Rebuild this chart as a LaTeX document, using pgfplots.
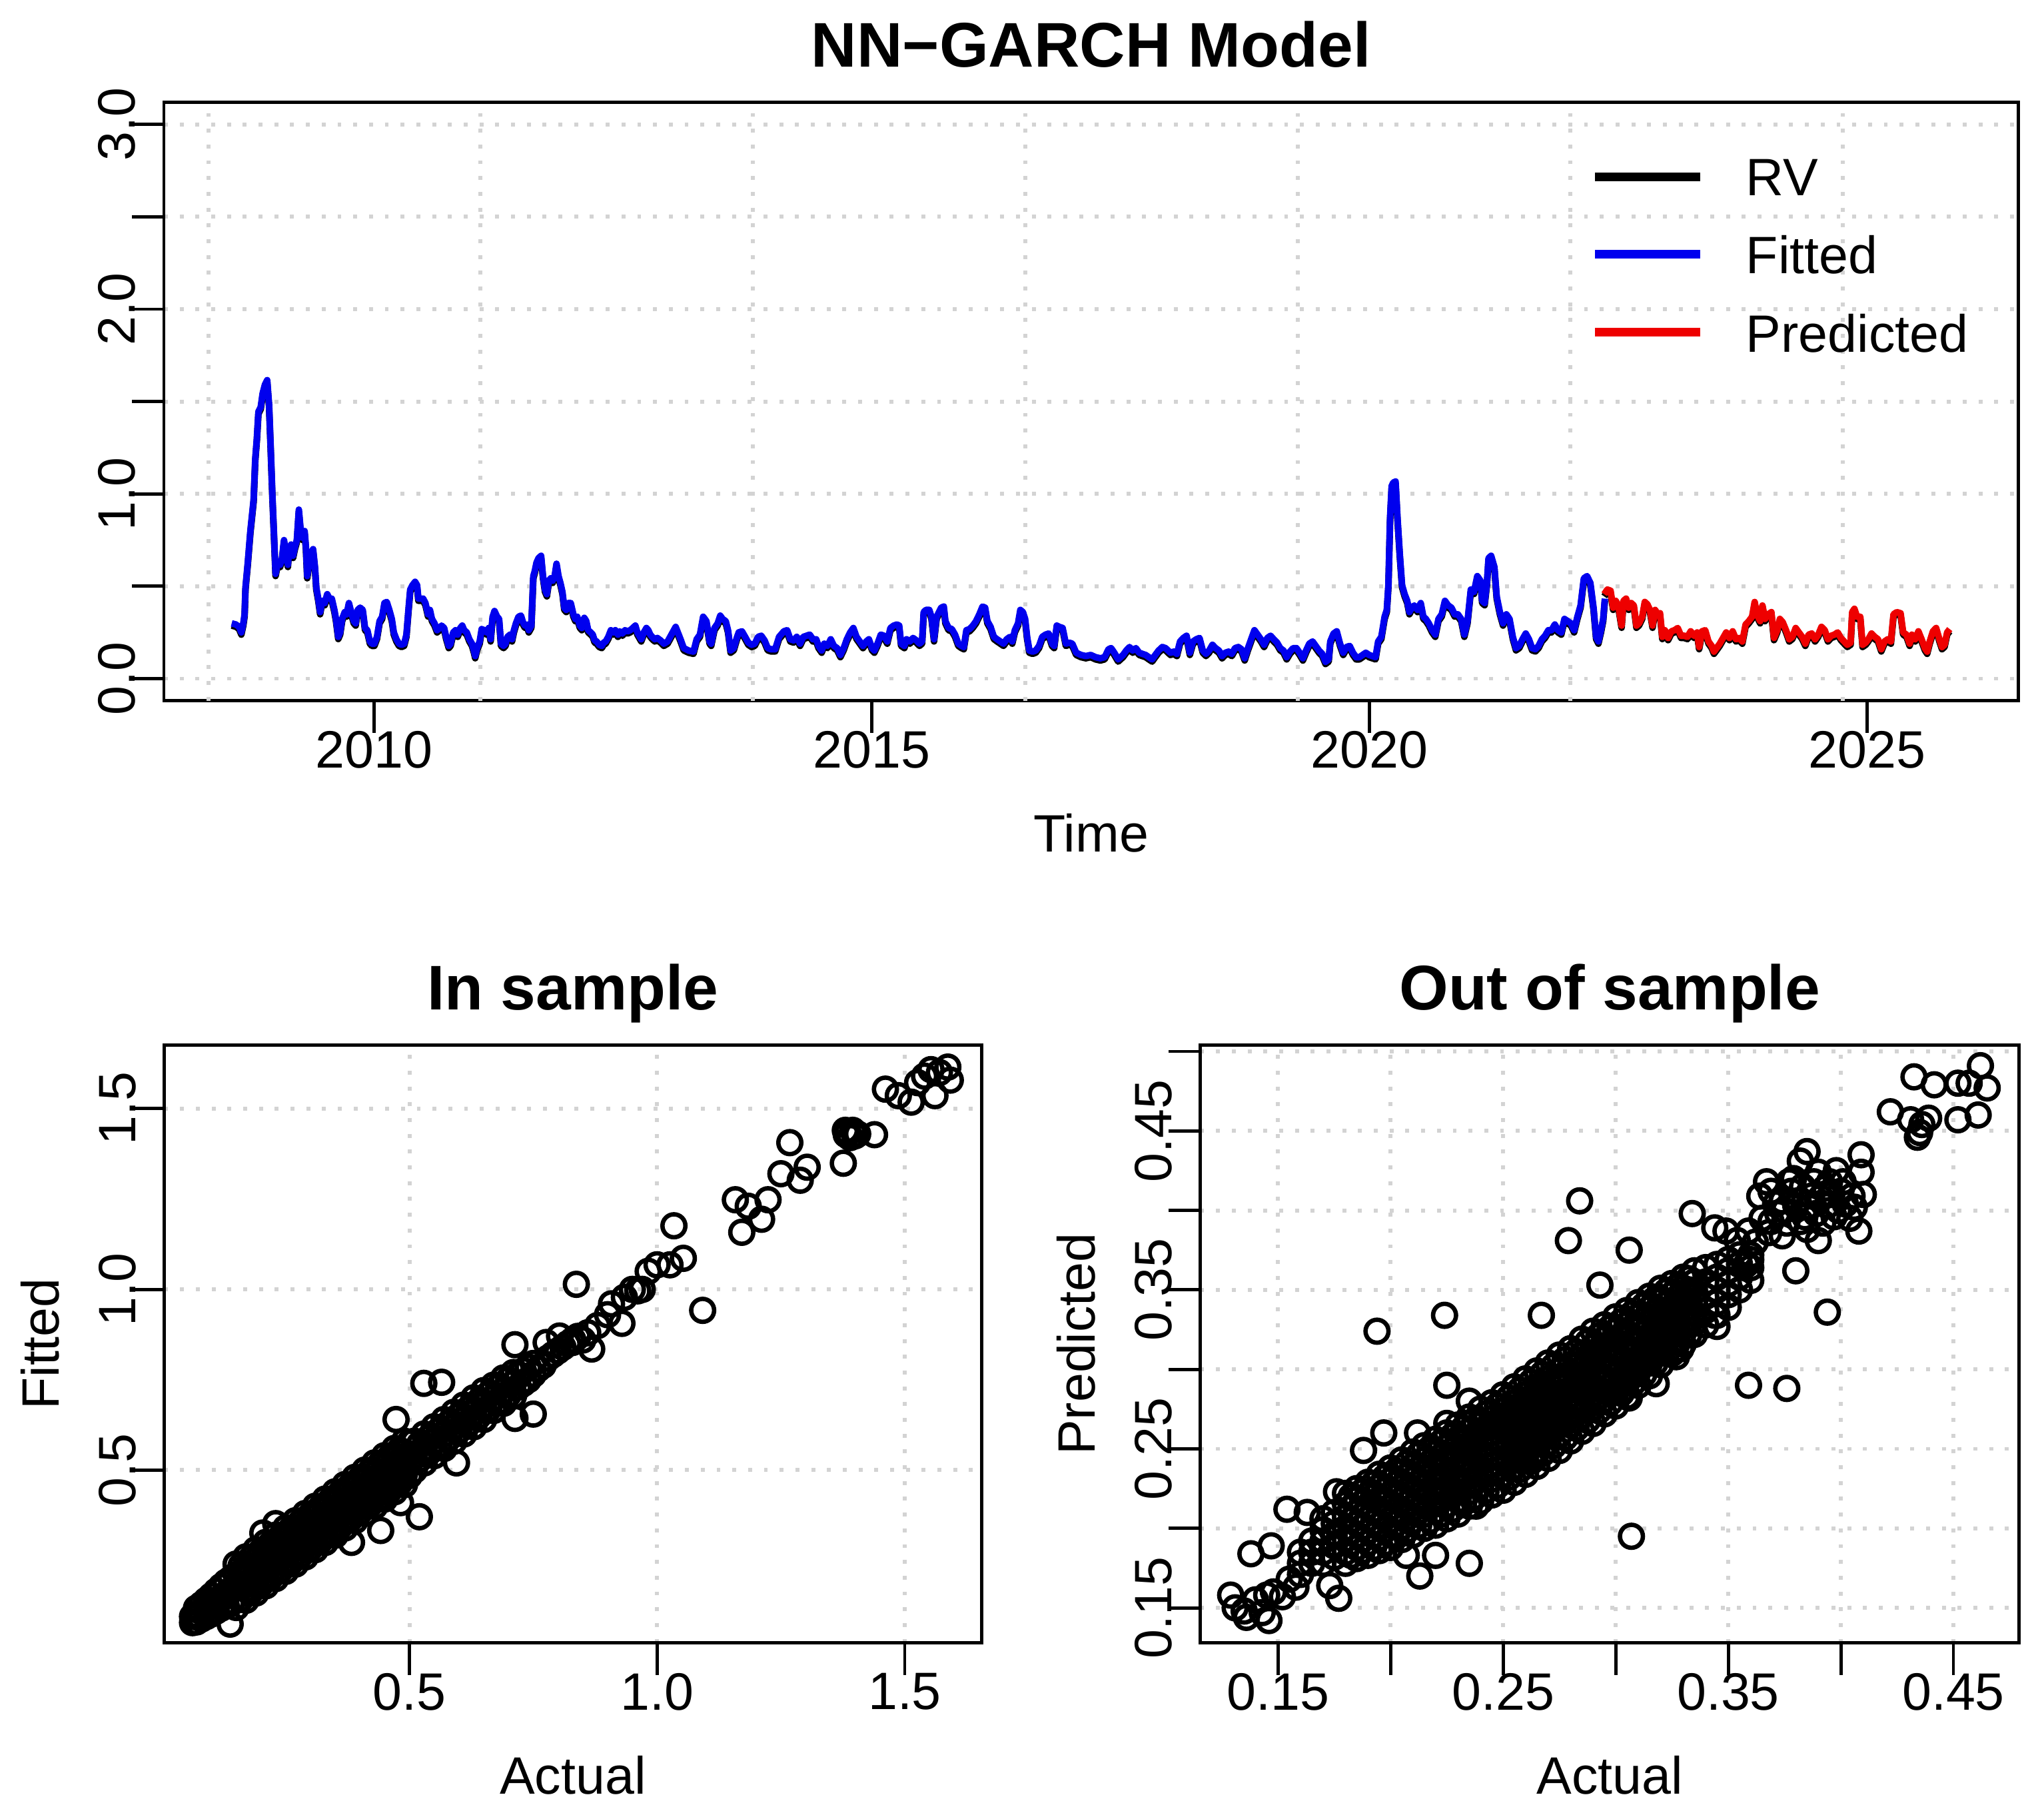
\documentclass[border=0pt]{standalone}
\usepackage{fontspec}
\setmainfont{Liberation Sans}
\usepackage{pgfplots}
\usepackage{pgfplotstable}
\pgfplotsset{compat=1.18}
\definecolor{gridgray}{RGB}{211,211,211}
\definecolor{rblue}{RGB}{0,0,238}
\definecolor{rred}{RGB}{238,0,0}

\pgfplotstableread{
t v
2008.569 0.299
2008.611 0.293
2008.644 0.280
2008.666 0.250
2008.686 0.299
2008.699 0.348
2008.708 0.494
2008.731 0.628
2008.757 0.799
2008.790 0.970
2008.806 1.189
2008.822 1.299
2008.838 1.445
2008.861 1.470
2008.880 1.543
2008.903 1.591
2008.926 1.616
2008.945 1.482
2008.962 1.238
2008.978 0.994
2008.991 0.823
2009.010 0.567
2009.033 0.628
2009.056 0.616
2009.075 0.652
2009.095 0.750
2009.114 0.677
2009.134 0.616
2009.147 0.701
2009.166 0.726
2009.186 0.665
2009.205 0.713
2009.224 0.750
2009.244 0.915
2009.263 0.799
2009.283 0.762
2009.302 0.799
2009.315 0.713
2009.328 0.555
2009.348 0.628
2009.367 0.677
2009.387 0.701
2009.406 0.604
2009.419 0.494
2009.439 0.433
2009.458 0.360
2009.478 0.421
2009.504 0.409
2009.529 0.457
2009.552 0.433
2009.575 0.433
2009.601 0.372
2009.617 0.323
2009.640 0.226
2009.659 0.250
2009.679 0.323
2009.705 0.360
2009.724 0.348
2009.747 0.409
2009.770 0.360
2009.796 0.311
2009.815 0.299
2009.835 0.372
2009.860 0.384
2009.886 0.372
2009.909 0.274
2009.932 0.262
2009.958 0.201
2009.977 0.189
2010.003 0.189
2010.029 0.226
2010.055 0.311
2010.081 0.335
2010.104 0.409
2010.127 0.415
2010.153 0.372
2010.178 0.323
2010.198 0.250
2010.224 0.213
2010.250 0.189
2010.276 0.183
2010.302 0.189
2010.325 0.238
2010.347 0.384
2010.363 0.482
2010.386 0.506
2010.412 0.524
2010.432 0.506
2010.445 0.433
2010.471 0.433
2010.493 0.433
2010.516 0.409
2010.542 0.348
2010.561 0.372
2010.581 0.323
2010.607 0.299
2010.633 0.262
2010.659 0.274
2010.678 0.287
2010.704 0.274
2010.724 0.226
2010.750 0.177
2010.769 0.189
2010.795 0.250
2010.818 0.262
2010.840 0.238
2010.866 0.274
2010.886 0.287
2010.905 0.262
2010.931 0.250
2010.957 0.213
2010.983 0.189
2011.003 0.152
2011.016 0.122
2011.035 0.165
2011.061 0.201
2011.081 0.268
2011.107 0.262
2011.133 0.250
2011.152 0.274
2011.171 0.213
2011.191 0.335
2011.210 0.366
2011.236 0.335
2011.256 0.323
2011.275 0.189
2011.301 0.177
2011.321 0.189
2011.340 0.226
2011.366 0.238
2011.386 0.213
2011.405 0.262
2011.425 0.299
2011.451 0.335
2011.476 0.341
2011.496 0.305
2011.515 0.287
2011.535 0.293
2011.554 0.262
2011.580 0.287
2011.600 0.555
2011.613 0.579
2011.632 0.628
2011.652 0.652
2011.678 0.665
2011.697 0.555
2011.717 0.482
2011.736 0.457
2011.756 0.530
2011.775 0.543
2011.794 0.530
2011.814 0.555
2011.833 0.622
2011.853 0.555
2011.872 0.518
2011.892 0.470
2011.911 0.384
2011.931 0.372
2011.950 0.409
2011.976 0.409
2012.002 0.348
2012.022 0.323
2012.041 0.335
2012.067 0.287
2012.087 0.274
2012.112 0.329
2012.132 0.311
2012.151 0.262
2012.177 0.250
2012.197 0.238
2012.216 0.207
2012.236 0.201
2012.262 0.183
2012.288 0.177
2012.307 0.195
2012.327 0.201
2012.353 0.226
2012.379 0.262
2012.405 0.250
2012.424 0.262
2012.450 0.238
2012.469 0.256
2012.495 0.244
2012.521 0.262
2012.547 0.256
2012.573 0.262
2012.599 0.274
2012.625 0.287
2012.645 0.250
2012.664 0.232
2012.684 0.213
2012.710 0.250
2012.736 0.274
2012.755 0.262
2012.775 0.238
2012.794 0.226
2012.820 0.213
2012.846 0.220
2012.878 0.207
2012.911 0.189
2012.949 0.201
2013.030 0.280
2013.079 0.213
2013.111 0.165
2013.160 0.152
2013.209 0.146
2013.241 0.213
2013.274 0.238
2013.306 0.335
2013.339 0.311
2013.371 0.201
2013.387 0.189
2013.420 0.274
2013.452 0.299
2013.478 0.341
2013.501 0.323
2013.533 0.311
2013.556 0.262
2013.582 0.152
2013.614 0.165
2013.640 0.213
2013.663 0.250
2013.696 0.256
2013.728 0.226
2013.760 0.195
2013.793 0.183
2013.825 0.189
2013.858 0.226
2013.890 0.232
2013.923 0.207
2013.955 0.165
2013.988 0.159
2014.030 0.159
2014.069 0.226
2014.117 0.256
2014.150 0.262
2014.182 0.213
2014.215 0.207
2014.247 0.226
2014.280 0.189
2014.312 0.226
2014.345 0.232
2014.377 0.238
2014.409 0.213
2014.442 0.213
2014.465 0.177
2014.497 0.152
2014.523 0.189
2014.555 0.177
2014.588 0.213
2014.620 0.177
2014.653 0.165
2014.685 0.128
2014.718 0.165
2014.750 0.213
2014.783 0.250
2014.815 0.274
2014.847 0.226
2014.880 0.201
2014.912 0.177
2014.945 0.201
2014.971 0.213
2015.003 0.165
2015.026 0.152
2015.058 0.189
2015.091 0.238
2015.123 0.232
2015.156 0.201
2015.188 0.274
2015.221 0.287
2015.253 0.293
2015.276 0.287
2015.295 0.189
2015.328 0.177
2015.350 0.213
2015.383 0.201
2015.415 0.220
2015.448 0.207
2015.480 0.189
2015.506 0.201
2015.522 0.360
2015.545 0.372
2015.578 0.372
2015.600 0.335
2015.626 0.213
2015.652 0.335
2015.675 0.360
2015.698 0.384
2015.724 0.390
2015.740 0.311
2015.772 0.274
2015.805 0.268
2015.837 0.238
2015.870 0.189
2015.902 0.177
2015.925 0.171
2015.951 0.262
2015.983 0.268
2016.016 0.287
2016.048 0.311
2016.081 0.348
2016.113 0.390
2016.139 0.384
2016.162 0.311
2016.194 0.280
2016.227 0.226
2016.259 0.213
2016.292 0.201
2016.324 0.189
2016.356 0.213
2016.389 0.226
2016.412 0.201
2016.438 0.262
2016.470 0.299
2016.493 0.372
2016.519 0.360
2016.541 0.323
2016.561 0.226
2016.584 0.152
2016.616 0.146
2016.648 0.152
2016.681 0.177
2016.713 0.226
2016.746 0.238
2016.778 0.244
2016.811 0.189
2016.833 0.177
2016.859 0.287
2016.885 0.280
2016.918 0.274
2016.950 0.189
2016.983 0.195
2017.015 0.189
2017.054 0.140
2017.103 0.128
2017.151 0.122
2017.200 0.128
2017.249 0.116
2017.297 0.110
2017.340 0.116
2017.379 0.159
2017.405 0.165
2017.437 0.140
2017.476 0.104
2017.525 0.128
2017.557 0.152
2017.590 0.171
2017.622 0.152
2017.654 0.165
2017.687 0.140
2017.719 0.134
2017.752 0.128
2017.784 0.116
2017.817 0.104
2017.849 0.128
2017.882 0.152
2017.920 0.171
2017.952 0.165
2018.001 0.140
2018.034 0.146
2018.066 0.134
2018.098 0.201
2018.131 0.220
2018.163 0.232
2018.196 0.140
2018.228 0.201
2018.261 0.213
2018.293 0.220
2018.326 0.152
2018.358 0.134
2018.390 0.152
2018.423 0.183
2018.455 0.165
2018.488 0.152
2018.520 0.122
2018.553 0.140
2018.585 0.146
2018.618 0.134
2018.650 0.165
2018.683 0.171
2018.715 0.159
2018.747 0.110
2018.780 0.165
2018.812 0.213
2018.845 0.262
2018.877 0.238
2018.910 0.213
2018.942 0.183
2018.975 0.220
2019.007 0.232
2019.039 0.213
2019.072 0.195
2019.104 0.165
2019.137 0.152
2019.169 0.116
2019.202 0.146
2019.234 0.165
2019.267 0.165
2019.299 0.140
2019.332 0.110
2019.364 0.152
2019.396 0.189
2019.429 0.201
2019.461 0.177
2019.494 0.152
2019.526 0.134
2019.559 0.091
2019.591 0.104
2019.607 0.201
2019.640 0.244
2019.672 0.256
2019.705 0.189
2019.737 0.140
2019.770 0.171
2019.802 0.177
2019.835 0.140
2019.867 0.116
2019.899 0.116
2019.932 0.128
2019.964 0.140
2019.997 0.128
2020.029 0.122
2020.062 0.116
2020.088 0.201
2020.120 0.226
2020.153 0.335
2020.175 0.372
2020.191 0.506
2020.208 0.872
2020.224 1.043
2020.240 1.061
2020.263 1.067
2020.282 0.872
2020.305 0.677
2020.328 0.506
2020.354 0.457
2020.380 0.421
2020.402 0.360
2020.425 0.384
2020.451 0.396
2020.484 0.372
2020.516 0.409
2020.542 0.335
2020.568 0.323
2020.597 0.299
2020.630 0.262
2020.662 0.238
2020.694 0.323
2020.727 0.348
2020.759 0.421
2020.792 0.396
2020.824 0.384
2020.857 0.348
2020.889 0.348
2020.922 0.323
2020.954 0.238
2020.986 0.311
2021.019 0.482
2021.051 0.470
2021.084 0.555
2021.116 0.530
2021.133 0.421
2021.158 0.409
2021.181 0.518
2021.197 0.652
2021.223 0.665
2021.256 0.604
2021.279 0.445
2021.311 0.360
2021.343 0.299
2021.376 0.348
2021.408 0.323
2021.441 0.226
2021.473 0.165
2021.506 0.177
2021.538 0.213
2021.571 0.244
2021.603 0.213
2021.635 0.165
2021.668 0.159
2021.700 0.177
2021.733 0.213
2021.765 0.232
2021.798 0.262
2021.830 0.262
2021.863 0.293
2021.895 0.262
2021.928 0.250
2021.960 0.323
2021.992 0.311
2022.025 0.299
2022.057 0.262
2022.090 0.335
2022.122 0.396
2022.155 0.543
2022.187 0.555
2022.220 0.518
2022.252 0.384
2022.278 0.226
2022.301 0.201
2022.327 0.262
2022.349 0.323
2022.366 0.433
}\fittedtab

\pgfplotstableread{
t v
2022.359 0.457
2022.391 0.482
2022.423 0.476
2022.449 0.384
2022.475 0.421
2022.501 0.396
2022.534 0.287
2022.553 0.421
2022.579 0.433
2022.605 0.384
2022.631 0.409
2022.657 0.396
2022.683 0.287
2022.709 0.299
2022.741 0.335
2022.767 0.415
2022.793 0.402
2022.819 0.372
2022.845 0.287
2022.871 0.372
2022.897 0.348
2022.920 0.354
2022.943 0.226
2022.969 0.262
2023.001 0.220
2023.034 0.256
2023.066 0.262
2023.098 0.274
2023.131 0.232
2023.163 0.232
2023.196 0.226
2023.228 0.256
2023.261 0.232
2023.293 0.250
2023.313 0.171
2023.342 0.256
2023.374 0.262
2023.407 0.201
2023.439 0.177
2023.462 0.146
2023.488 0.165
2023.520 0.189
2023.553 0.220
2023.585 0.250
2023.618 0.220
2023.650 0.256
2023.683 0.213
2023.715 0.220
2023.747 0.201
2023.780 0.293
2023.812 0.311
2023.845 0.335
2023.871 0.415
2023.893 0.348
2023.926 0.311
2023.949 0.396
2023.975 0.323
2024.007 0.348
2024.039 0.360
2024.065 0.220
2024.098 0.262
2024.124 0.323
2024.153 0.305
2024.186 0.262
2024.218 0.213
2024.250 0.226
2024.283 0.274
2024.315 0.250
2024.348 0.226
2024.380 0.189
2024.413 0.238
2024.445 0.244
2024.478 0.213
2024.510 0.238
2024.542 0.280
2024.575 0.262
2024.607 0.213
2024.640 0.232
2024.672 0.238
2024.705 0.250
2024.737 0.220
2024.770 0.201
2024.802 0.183
2024.835 0.195
2024.851 0.360
2024.873 0.378
2024.899 0.335
2024.932 0.335
2024.955 0.183
2024.987 0.195
2025.013 0.213
2025.045 0.244
2025.078 0.226
2025.110 0.213
2025.143 0.159
2025.175 0.201
2025.208 0.213
2025.240 0.201
2025.266 0.348
2025.299 0.360
2025.337 0.354
2025.363 0.250
2025.396 0.238
2025.428 0.189
2025.451 0.238
2025.484 0.213
2025.516 0.256
2025.548 0.213
2025.581 0.165
2025.604 0.146
2025.630 0.201
2025.662 0.256
2025.694 0.274
2025.727 0.213
2025.753 0.171
2025.779 0.183
2025.805 0.250
2025.831 0.268
}\predtab

\pgfplotstableread{
a f
0.138 0.074
0.230 0.352
0.204 0.326
0.383 0.300
0.442 0.333
0.520 0.371
0.482 0.410
0.595 0.520
0.473 0.640
0.529 0.740
0.565 0.743
0.713 0.847
0.713 0.643
0.750 0.655
0.776 0.853
0.803 0.871
0.829 0.853
0.840 0.870
0.837 1.014
0.850 0.860
0.868 0.835
0.860 0.880
0.880 0.900
0.900 0.930
0.908 0.960
0.929 0.906
0.934 0.978
0.950 1.000
0.961 0.996
0.970 1.000
0.982 1.050
1.000 1.068
1.026 1.068
1.034 1.176
1.053 1.086
1.092 0.942
1.158 1.248
1.171 1.158
1.184 1.230
1.211 1.194
1.224 1.248
1.250 1.320
1.268 1.406
1.289 1.302
1.303 1.338
1.376 1.349
1.382 1.428
1.385 1.435
1.390 1.420
1.395 1.440
1.400 1.425
1.380 1.440
1.405 1.430
1.439 1.428
1.461 1.554
1.487 1.536
1.513 1.518
1.526 1.572
1.553 1.608
1.561 1.536
1.587 1.615
1.592 1.579
1.540 1.590
1.570 1.600
}\insample

\pgfplotstableread{
a p
0.4325 0.484
0.4415 0.479
0.452 0.480
0.457 0.480
0.462 0.491
0.465 0.477
0.422 0.462
0.431 0.457
0.436 0.454
0.435 0.449
0.434 0.446
0.439 0.458
0.452 0.457
0.461 0.460
0.385 0.437
0.382 0.431
0.409 0.435
0.409 0.424
0.367 0.418
0.364 0.409
0.369 0.412
0.374 0.406
0.380 0.403
0.390 0.424
0.395 0.418
0.400 0.412
0.405 0.409
0.408 0.387
0.390 0.381
0.374 0.384
0.382 0.393
0.387 0.409
0.394 0.403
0.399 0.400
0.372 0.398
0.378 0.412
0.384 0.396
0.388 0.418
0.392 0.392
0.396 0.410
0.402 0.404
0.376 0.392
0.386 0.402
0.365 0.395
0.398 0.425
0.410 0.410
0.404 0.395
0.375 0.400
0.381 0.406
0.389 0.398
0.393 0.414
0.397 0.396
0.401 0.418
0.385 0.388
0.379 0.420
0.371 0.404
0.406 0.402
0.383 0.415
0.391 0.408
0.355 0.372
0.362 0.380
0.368 0.386
0.358 0.366
0.380 0.362
0.394 0.336
0.360 0.369
0.349 0.387
0.344 0.389
0.334 0.398
0.354 0.381
0.359 0.387
0.369 0.393
0.377 0.418
0.284 0.406
0.279 0.381
0.306 0.375
0.293 0.353
0.224 0.334
0.194 0.324
0.267 0.334
0.225 0.290
0.359 0.290
0.376 0.288
0.318 0.291
0.306 0.282
0.304 0.288
0.307 0.195
0.235 0.178
0.213 0.170
0.207 0.183
0.220 0.183
0.138 0.184
0.147 0.189
0.154 0.212
0.129 0.158
0.131 0.150
0.136 0.144
0.146 0.142
0.145 0.158
0.177 0.156
0.173 0.164
0.163 0.210
0.176 0.223
0.188 0.249
0.197 0.260
0.212 0.260
0.225 0.266
0.235 0.280
0.264 0.245
0.266 0.288
0.292 0.282
0.344 0.334
0.345 0.327
0.238 0.214
0.329 0.313
0.327 0.308
0.318 0.316
0.305 0.294
0.135 0.148
0.140 0.155
0.143 0.147
0.148 0.160
0.152 0.157
0.155 0.168
0.158 0.163
}\outsample

\pgfplotsset{
  rbase/.style={
    scale only axis, enlargelimits=false,
    axis line style={line width=0.75pt},
    tick align=outside, tick pos=left,
    major tick length=7.3pt,
    tick style={black, line width=0.75pt},
    major grid style={gridgray, line width=0.9pt, dash pattern=on 0.9pt off 2.7pt},
    tick label style={font=\fontsize{12}{14.4}\selectfont},
    xticklabel style={anchor=north, inner sep=0pt, yshift=0.6pt},
    yticklabel style={xshift=1pt, rotate=90, anchor=south, inner sep=0pt},
    every axis title/.style={at={(axis description cs:0.5,1)}, anchor=base, yshift=8pt, font=\bfseries\fontsize{14.4}{17.28}\selectfont},
    every axis x label/.style={at={(axis description cs:0.5,0)}, anchor=base, yshift=-34.5pt, font=\fontsize{12}{14.4}\selectfont},
    every axis y label/.style={at={(axis description cs:0,0.5)}, xshift=-24pt, rotate=90, anchor=base, font=\fontsize{12}{14.4}\selectfont},
  },
  rcirc/.style={only marks, mark=o, mark size=2.62pt, mark options={black, line width=1pt}},
}

\begin{document}
\begin{tikzpicture}
\path[use as bounding box] (0pt,0pt) rectangle (466.34pt,-412.68pt);

\begin{axis}[rbase,
  at={(37.39pt,-23.33pt)}, anchor=north west,
  width=423.09pt, height=136.53pt,
  xmin=2007.888, xmax=2026.520, ymin=-0.12, ymax=3.12,
  xtick={2010,2015,2020,2025}, xticklabels={2010,2015,2020,2025},
  ytick={0,0.5,1,1.5,2,2.5,3}, yticklabels={0.0,,1.0,,2.0,,3.0},
  ymajorgrids=true, xmajorgrids=false,
  extra x ticks={2008.335,2011.070,2013.808,2016.546,2019.283,2022.019,2024.758},
  extra x tick labels={},
  extra x tick style={grid=major, major tick length=0pt},
  title={NN−GARCH Model}, xlabel={Time},
  legend style={draw=none, fill=none, at={(axis description cs:0.7695,0.9047)}, anchor=north west,
    inner sep=0pt, outer sep=0pt, row sep=7.65pt, column sep=9.5pt,
    font=\fontsize{12}{14.4}\selectfont, nodes={inner sep=0pt, outer sep=0pt}},
  legend cell align=left,
  legend image code/.code={\draw[#1] (0pt,0.9pt) -- (23.9pt,0.9pt);},
]
\addplot[black, line width=1.5pt, line join=round, yshift=-0.5pt, forget plot] table[x=t,y=v] {\fittedtab};
\addplot[black, line width=1.5pt, line join=round, yshift=-0.5pt, forget plot] table[x=t,y=v] {\predtab};
\addplot[rblue, line width=1.5pt, line join=round, forget plot] table[x=t,y=v] {\fittedtab};
\addplot[rred, line width=1.5pt, line join=round, forget plot] table[x=t,y=v] {\predtab};
\addlegendimage{black, line width=2pt}
\addlegendentry{RV}
\addlegendimage{rblue, line width=2pt}
\addlegendentry{Fitted}
\addlegendimage{rred, line width=2pt}
\addlegendentry{Predicted}
\end{axis}

\begin{axis}[rbase, clip=false,
  at={(37.48pt,-238.40pt)}, anchor=north west,
  width=186.45pt, height=136.36pt,
  xmin=0.005, xmax=1.655, ymin=0.0223, ymax=1.676,
  xtick={0.5,1,1.5}, xticklabels={0.5,1.0,1.5},
  ytick={0.5,1,1.5}, yticklabels={0.5,1.0,1.5},
  grid=major,
  title={In sample}, xlabel={Actual}, ylabel={Fitted},
]
\addplot[rcirc] coordinates {
(0.062,0.078) (0.062,0.095) (0.07,0.080) (0.07,0.100) (0.07,0.118) (0.08,0.088) (0.08,0.108) (0.08,0.128)
(0.09,0.095) (0.09,0.118) (0.09,0.140) (0.10,0.102) (0.10,0.128) (0.10,0.152) (0.11,0.110) (0.11,0.138)
(0.11,0.165) (0.12,0.118) (0.12,0.148) (0.12,0.178) (0.13,0.125) (0.13,0.158) (0.13,0.190) (0.14,0.132)
(0.14,0.168) (0.14,0.200)
(0.15,0.12) (0.15,0.15) (0.15,0.18) (0.15,0.21) (0.15,0.24)
(0.16,0.145) (0.16,0.175) (0.16,0.205) (0.16,0.235)
(0.17,0.14) (0.17,0.17) (0.17,0.20) (0.17,0.23) (0.17,0.26)
(0.18,0.165) (0.18,0.195) (0.18,0.225) (0.18,0.255)
(0.19,0.16) (0.19,0.19) (0.19,0.22) (0.19,0.25) (0.19,0.28)
(0.20,0.185) (0.20,0.215) (0.20,0.245) (0.20,0.275)
(0.21,0.18) (0.21,0.21) (0.21,0.24) (0.21,0.27) (0.21,0.30)
(0.22,0.205) (0.22,0.235) (0.22,0.265) (0.22,0.295)
(0.23,0.20) (0.23,0.23) (0.23,0.26) (0.23,0.29) (0.23,0.32)
(0.24,0.225) (0.24,0.255) (0.24,0.285) (0.24,0.315)
(0.25,0.22) (0.25,0.25) (0.25,0.28) (0.25,0.31) (0.25,0.34)
(0.26,0.245) (0.26,0.275) (0.26,0.305) (0.26,0.335)
(0.27,0.24) (0.27,0.27) (0.27,0.30) (0.27,0.33) (0.27,0.36)
(0.28,0.265) (0.28,0.295) (0.28,0.325) (0.28,0.355)
(0.29,0.26) (0.29,0.29) (0.29,0.32) (0.29,0.35) (0.29,0.38)
(0.30,0.285) (0.30,0.315) (0.30,0.345) (0.30,0.375)
(0.31,0.28) (0.31,0.31) (0.31,0.34) (0.31,0.37) (0.31,0.40)
(0.32,0.305) (0.32,0.335) (0.32,0.365) (0.32,0.395)
(0.33,0.30) (0.33,0.33) (0.33,0.36) (0.33,0.39) (0.33,0.42)
(0.34,0.325) (0.34,0.355) (0.34,0.385) (0.34,0.415)
(0.35,0.32) (0.35,0.35) (0.35,0.38) (0.35,0.41) (0.35,0.44)
(0.36,0.345) (0.36,0.375) (0.36,0.405) (0.36,0.435)
(0.37,0.34) (0.37,0.37) (0.37,0.40) (0.37,0.43) (0.37,0.46)
(0.38,0.365) (0.38,0.395) (0.38,0.425) (0.38,0.455)
(0.39,0.36) (0.39,0.39) (0.39,0.42) (0.39,0.45) (0.39,0.48)
(0.40,0.385) (0.40,0.415) (0.40,0.445) (0.40,0.475)
(0.41,0.38) (0.41,0.41) (0.41,0.44) (0.41,0.47) (0.41,0.50)
(0.42,0.405) (0.42,0.435) (0.42,0.465) (0.42,0.495)
(0.43,0.40) (0.43,0.43) (0.43,0.46) (0.43,0.49) (0.43,0.52)
(0.44,0.425) (0.44,0.455) (0.44,0.485) (0.44,0.515)
(0.45,0.42) (0.45,0.45) (0.45,0.48) (0.45,0.51) (0.45,0.54)
(0.46,0.445) (0.46,0.475) (0.46,0.505) (0.46,0.535)
(0.47,0.44) (0.47,0.47) (0.47,0.50) (0.47,0.53) (0.47,0.56)
(0.48,0.465) (0.48,0.495) (0.48,0.525) (0.48,0.555)
(0.49,0.46) (0.49,0.49) (0.49,0.52) (0.49,0.55) (0.49,0.58)
(0.50,0.485) (0.50,0.515) (0.50,0.545) (0.50,0.575)
(0.51,0.50) (0.51,0.54) (0.51,0.58) (0.52,0.53) (0.52,0.57)
(0.53,0.52) (0.53,0.56) (0.53,0.60) (0.54,0.55) (0.54,0.59)
(0.55,0.54) (0.55,0.58) (0.55,0.62) (0.56,0.57) (0.56,0.61)
(0.57,0.56) (0.57,0.60) (0.57,0.64) (0.58,0.59) (0.58,0.63)
(0.59,0.58) (0.59,0.62) (0.59,0.66) (0.60,0.61) (0.60,0.65)
(0.61,0.60) (0.61,0.64) (0.61,0.68) (0.62,0.63) (0.62,0.67)
(0.63,0.62) (0.63,0.66) (0.63,0.70) (0.64,0.65) (0.64,0.69)
(0.65,0.64) (0.65,0.68) (0.65,0.72) (0.66,0.67) (0.66,0.71)
(0.67,0.665) (0.67,0.70) (0.67,0.735) (0.68,0.69) (0.68,0.73)
(0.69,0.685) (0.69,0.72) (0.69,0.755) (0.70,0.71) (0.70,0.75)
(0.71,0.705) (0.71,0.74) (0.71,0.77) (0.72,0.73) (0.72,0.765)
(0.73,0.74) (0.73,0.775) (0.74,0.75) (0.74,0.785) (0.75,0.765) (0.75,0.795)
(0.76,0.78) (0.77,0.79) (0.78,0.81) (0.79,0.82) (0.80,0.83) (0.81,0.84) (0.82,0.85) (0.83,0.86)
};
\addplot[rcirc] table[x=a,y=f] {\insample};
\end{axis}

\begin{axis}[rbase, clip=false,
  at={(273.84pt,-238.40pt)}, anchor=north west,
  width=186.83pt, height=136.36pt,
  xmin=0.1155, xmax=0.4792, ymin=0.128, ymax=0.504,
  xtick={0.15,0.20,0.25,0.30,0.35,0.40,0.45}, xticklabels={0.15,,0.25,,0.35,,0.45},
  ytick={0.15,0.20,0.25,0.30,0.35,0.40,0.45,0.50}, yticklabels={0.15,,0.25,,0.35,,0.45,},
  grid=major,
  title={Out of sample}, xlabel={Actual}, ylabel={Predicted},
]
\addplot[rcirc] coordinates {
(0.160,0.171) (0.160,0.178) (0.160,0.185)
(0.165,0.178) (0.165,0.185) (0.165,0.192)
(0.170,0.178) (0.170,0.185) (0.170,0.192) (0.170,0.199) (0.170,0.206)
(0.175,0.182) (0.175,0.189) (0.175,0.196) (0.175,0.203) (0.175,0.210)
(0.180,0.178) (0.180,0.185) (0.180,0.193) (0.180,0.200) (0.180,0.207) (0.180,0.215) (0.180,0.222)
(0.185,0.181) (0.185,0.188) (0.185,0.196) (0.185,0.203) (0.185,0.210) (0.185,0.218) (0.185,0.225)
(0.190,0.183) (0.190,0.191) (0.190,0.198) (0.190,0.206) (0.190,0.214) (0.190,0.221) (0.190,0.229)
(0.195,0.186) (0.195,0.194) (0.195,0.202) (0.195,0.210) (0.195,0.218) (0.195,0.226) (0.195,0.234)
(0.200,0.188) (0.200,0.196) (0.200,0.205) (0.200,0.213) (0.200,0.221) (0.200,0.230) (0.200,0.238)
(0.205,0.193) (0.205,0.201) (0.205,0.210) (0.205,0.218) (0.205,0.226) (0.205,0.235) (0.205,0.243)
(0.210,0.196) (0.210,0.205) (0.210,0.213) (0.210,0.222) (0.210,0.231) (0.210,0.239) (0.210,0.248)
(0.215,0.200) (0.215,0.209) (0.215,0.217) (0.215,0.226) (0.215,0.235) (0.215,0.243) (0.215,0.252)
(0.220,0.202) (0.220,0.211) (0.220,0.220) (0.220,0.229) (0.220,0.238) (0.220,0.247) (0.220,0.256)
(0.225,0.206) (0.225,0.215) (0.225,0.224) (0.225,0.233) (0.225,0.242) (0.225,0.251) (0.225,0.260)
(0.230,0.209) (0.230,0.218) (0.230,0.228) (0.230,0.237) (0.230,0.246) (0.230,0.256) (0.230,0.265)
(0.235,0.214) (0.235,0.223) (0.235,0.233) (0.235,0.242) (0.235,0.251) (0.235,0.261) (0.235,0.270)
(0.240,0.217) (0.240,0.227) (0.240,0.236) (0.240,0.246) (0.240,0.256) (0.240,0.265) (0.240,0.275)
(0.245,0.221) (0.245,0.231) (0.245,0.240) (0.245,0.250) (0.245,0.260) (0.245,0.269) (0.245,0.279)
(0.250,0.224) (0.250,0.234) (0.250,0.244) (0.250,0.254) (0.250,0.264) (0.250,0.274) (0.250,0.284)
(0.255,0.229) (0.255,0.239) (0.255,0.249) (0.255,0.259) (0.255,0.269) (0.255,0.279) (0.255,0.289)
(0.260,0.234) (0.260,0.244) (0.260,0.254) (0.260,0.264) (0.260,0.274) (0.260,0.284) (0.260,0.294)
(0.265,0.239) (0.265,0.249) (0.265,0.259) (0.265,0.269) (0.265,0.279) (0.265,0.289) (0.265,0.299)
(0.270,0.244) (0.270,0.254) (0.270,0.264) (0.270,0.274) (0.270,0.284) (0.270,0.294) (0.270,0.304)
(0.275,0.249) (0.275,0.259) (0.275,0.269) (0.275,0.279) (0.275,0.289) (0.275,0.299) (0.275,0.309)
(0.280,0.255) (0.280,0.265) (0.280,0.274) (0.280,0.284) (0.280,0.294) (0.280,0.303) (0.280,0.313)
(0.285,0.261) (0.285,0.271) (0.285,0.280) (0.285,0.290) (0.285,0.300) (0.285,0.309) (0.285,0.319)
(0.290,0.266) (0.290,0.276) (0.290,0.285) (0.290,0.295) (0.290,0.305) (0.290,0.314) (0.290,0.324)
(0.295,0.272) (0.295,0.281) (0.295,0.291) (0.295,0.300) (0.295,0.309) (0.295,0.319) (0.295,0.328)
(0.300,0.277) (0.300,0.286) (0.300,0.296) (0.300,0.305) (0.300,0.314) (0.300,0.324) (0.300,0.333)
(0.305,0.283) (0.305,0.292) (0.305,0.301) (0.305,0.310) (0.305,0.319) (0.305,0.328) (0.305,0.337)
(0.310,0.290) (0.310,0.299) (0.310,0.307) (0.310,0.316) (0.310,0.325) (0.310,0.333) (0.310,0.342)
(0.315,0.296) (0.315,0.304) (0.315,0.313) (0.315,0.321) (0.315,0.329) (0.315,0.338) (0.315,0.346)
(0.320,0.303) (0.320,0.311) (0.320,0.319) (0.320,0.327) (0.320,0.335) (0.320,0.343) (0.320,0.351)
(0.325,0.310) (0.325,0.317) (0.325,0.325) (0.325,0.332) (0.325,0.339) (0.325,0.347) (0.325,0.354)
(0.330,0.316) (0.330,0.323) (0.330,0.330) (0.330,0.337) (0.330,0.344) (0.330,0.351) (0.330,0.358)
(0.335,0.322) (0.335,0.329) (0.335,0.335) (0.335,0.342) (0.335,0.349) (0.335,0.355) (0.335,0.362)
(0.340,0.328) (0.340,0.337) (0.340,0.346) (0.340,0.355) (0.340,0.364)
(0.345,0.334) (0.345,0.342) (0.345,0.350) (0.345,0.358) (0.345,0.366)
(0.350,0.339) (0.350,0.347) (0.350,0.354) (0.350,0.362) (0.350,0.369)
(0.355,0.350) (0.355,0.358) (0.355,0.366) (0.360,0.356) (0.360,0.364) (0.360,0.372)
(0.1825,0.183) (0.1825,0.191) (0.1825,0.198) (0.1825,0.205) (0.1825,0.213) (0.1825,0.220)
(0.1875,0.186) (0.1875,0.193) (0.1875,0.201) (0.1875,0.208) (0.1875,0.216) (0.1875,0.223)
(0.1925,0.188) (0.1925,0.196) (0.1925,0.204) (0.1925,0.212) (0.1925,0.220) (0.1925,0.228)
(0.1975,0.191) (0.1975,0.199) (0.1975,0.207) (0.1975,0.216) (0.1975,0.224) (0.1975,0.232)
(0.2025,0.195) (0.2025,0.203) (0.2025,0.211) (0.2025,0.220) (0.2025,0.228) (0.2025,0.236)
(0.2075,0.199) (0.2075,0.207) (0.2075,0.216) (0.2075,0.224) (0.2075,0.233) (0.2075,0.241)
(0.2125,0.202) (0.2125,0.211) (0.2125,0.220) (0.2125,0.228) (0.2125,0.237) (0.2125,0.246)
(0.2175,0.205) (0.2175,0.214) (0.2175,0.223) (0.2175,0.232) (0.2175,0.241) (0.2175,0.250)
(0.2225,0.209) (0.2225,0.218) (0.2225,0.227) (0.2225,0.236) (0.2225,0.245) (0.2225,0.254)
(0.2275,0.212) (0.2275,0.221) (0.2275,0.230) (0.2275,0.240) (0.2275,0.249) (0.2275,0.258)
(0.2325,0.216) (0.2325,0.226) (0.2325,0.235) (0.2325,0.244) (0.2325,0.254) (0.2325,0.263)
(0.2375,0.220) (0.2375,0.230) (0.2375,0.239) (0.2375,0.249) (0.2375,0.258) (0.2375,0.268)
(0.2425,0.224) (0.2425,0.234) (0.2425,0.243) (0.2425,0.253) (0.2425,0.263) (0.2425,0.272)
(0.2475,0.227) (0.2475,0.237) (0.2475,0.247) (0.2475,0.257) (0.2475,0.267) (0.2475,0.277)
(0.2525,0.232) (0.2525,0.242) (0.2525,0.252) (0.2525,0.262) (0.2525,0.272) (0.2525,0.282)
(0.2575,0.237) (0.2575,0.247) (0.2575,0.257) (0.2575,0.267) (0.2575,0.277) (0.2575,0.287)
(0.2625,0.242) (0.2625,0.252) (0.2625,0.262) (0.2625,0.272) (0.2625,0.282) (0.2625,0.292)
(0.2675,0.247) (0.2675,0.257) (0.2675,0.267) (0.2675,0.277) (0.2675,0.287) (0.2675,0.297)
(0.2725,0.252) (0.2725,0.262) (0.2725,0.272) (0.2725,0.282) (0.2725,0.292) (0.2725,0.302)
(0.2775,0.257) (0.2775,0.267) (0.2775,0.277) (0.2775,0.286) (0.2775,0.296) (0.2775,0.306)
(0.2825,0.263) (0.2825,0.273) (0.2825,0.282) (0.2825,0.292) (0.2825,0.302) (0.2825,0.311)
(0.2875,0.268) (0.2875,0.278) (0.2875,0.288) (0.2875,0.297) (0.2875,0.307) (0.2875,0.317)
(0.2925,0.274) (0.2925,0.283) (0.2925,0.293) (0.2925,0.302) (0.2925,0.312) (0.2925,0.321)
(0.2975,0.279) (0.2975,0.289) (0.2975,0.298) (0.2975,0.307) (0.2975,0.316) (0.2975,0.326)
(0.3025,0.285) (0.3025,0.294) (0.3025,0.303) (0.3025,0.312) (0.3025,0.321) (0.3025,0.330)
(0.3075,0.291) (0.3075,0.300) (0.3075,0.309) (0.3075,0.317) (0.3075,0.326) (0.3075,0.335)
(0.3125,0.297) (0.3125,0.306) (0.3125,0.314) (0.3125,0.323) (0.3125,0.331) (0.3125,0.340)
(0.3175,0.304) (0.3175,0.312) (0.3175,0.320) (0.3175,0.328) (0.3175,0.336) (0.3175,0.344)
(0.3225,0.310) (0.3225,0.318) (0.3225,0.326) (0.3225,0.333) (0.3225,0.341) (0.3225,0.349)
(0.3275,0.317) (0.3275,0.324) (0.3275,0.331) (0.3275,0.338) (0.3275,0.345) (0.3275,0.352)
(0.3325,0.322) (0.3325,0.329) (0.3325,0.336) (0.3325,0.343) (0.3325,0.350) (0.3325,0.357)
};
\addplot[rcirc] table[x=a,y=p] {\outsample};
\end{axis}
\end{tikzpicture}
\end{document}
